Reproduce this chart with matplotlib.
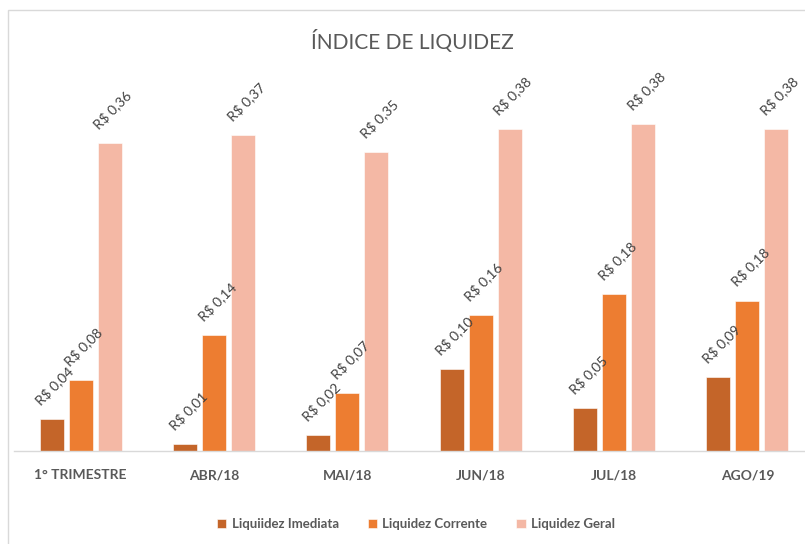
import matplotlib
matplotlib.use("Agg")
import matplotlib.pyplot as plt
import numpy as np
from matplotlib.patches import Rectangle

categories = ["1° TRIMESTRE", "ABR/18", "MAI/18", "JUN/18", "JUL/18", "AGO/19"]
liq_imediata = [0.037, 0.008, 0.019, 0.096, 0.050, 0.087]
liq_corrente = [0.083, 0.136, 0.068, 0.159, 0.184, 0.176]
liq_geral = [0.360, 0.370, 0.350, 0.377, 0.382, 0.377]
series_names = ["Liquiidez Imediata", "Liquidez Corrente", "Liquidez Geral"]
colors = ["#C46529", "#ED7D31", "#F4B8A5"]

plt.rcParams["font.family"] = ["Lato", "DejaVu Sans"]

W, H = 805, 544
fig = plt.figure(figsize=(W / 100, H / 100), dpi=100)

# chart border (left and top visible)
fig.add_artist(Rectangle((8 / W, -0.05), 1.2, 1 - 10 / H + 0.05, transform=fig.transFigure,
                         fill=False, edgecolor="#D9D9D9", linewidth=1))

ax = fig.add_axes([14 / W, (H - 451) / H, 800 / W, 342 / H])
x = np.arange(len(categories))
width = 0.18
step = 0.218

for i, (vals, name, col) in enumerate(zip([liq_imediata, liq_corrente, liq_geral], series_names, colors)):
    pos = x + (i - 1) * step
    ax.bar(pos, vals, width, color=col, label=name, edgecolor="white", linewidth=0.4)
    for xi, v in zip(pos, vals):
        txt = "R$ " + f"{v:.2f}".replace(".", ",")
        ax.annotate(txt, (xi, v), xytext=(3, 12),
                    textcoords="offset pixels", rotation=45, ha="center", va="bottom",
                    fontsize=10, color="#404040")

ax.set_xlim(-0.5, 5.5)
ax.set_ylim(0, 0.4)
ax.set_yticks([])
ax.set_xticks(x)
ax.set_xticklabels(categories, fontsize=10, fontweight="bold", color="#595959")
ax.tick_params(axis="x", length=0, pad=13)
for s in ["top", "right", "left"]:
    ax.spines[s].set_visible(False)
ax.spines["bottom"].set_color("#D9D9D9")
ax.spines["bottom"].set_linewidth(1)
ax.patch.set_alpha(0)

fig.text(412 / W, 1 - 41 / H, "ÍNDICE DE LIQUIDEZ", ha="center", va="center",
         fontsize=15, color="#595959")

fig.legend(loc="center", bbox_to_anchor=(416 / W, 1 - 524 / H), ncol=3, frameon=False,
           prop={"size": 9.5, "weight": "bold"}, labelcolor="#595959",
           handlelength=0.7, handleheight=0.7, handletextpad=0.4, columnspacing=2.2)

fig.savefig("out.png", dpi=100)
